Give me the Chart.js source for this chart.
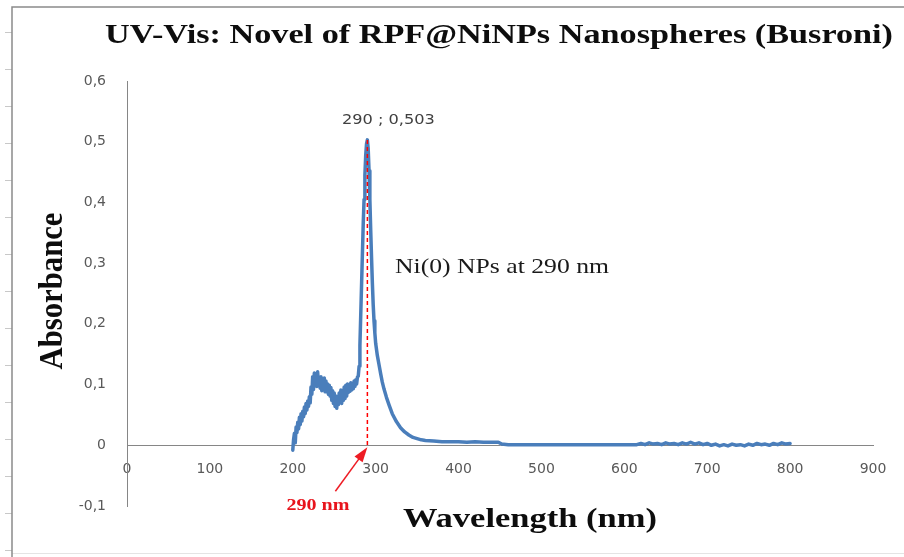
<!DOCTYPE html>
<html lang="en">
<head>
    <meta charset="UTF-8">
    <title>UV-Vis: Novel of RPF@NiNPs Nanospheres (Busroni)</title>
    <script src="https://cdn.jsdelivr.net/npm/chart.js"></script>
    <style>
        body { margin: 0; background: #fff; }
        canvas { display: block; }
    </style>
</head>
<body>
<canvas id="uvChart" width="904" height="557"></canvas>

<script>
    // Measured spectrum, wavelength in nm and absorbance
    const wavelength = [
        200, 201, 202, 203, 204, 205, 206, 207, 208, 209,
        210, 211, 212, 213, 214, 215, 216, 217, 218, 219,
        220, 221, 222, 223, 224, 225, 226, 227, 228, 229,
        230, 231, 232, 233, 234, 235, 236, 237, 238, 239,
        240, 241, 242, 243, 244, 245, 246, 247, 248, 249,
        250, 251, 252, 253, 254, 255, 256, 257, 258, 259,
        260, 261, 262, 263, 264, 265, 266, 267, 268, 269,
        270, 271, 272, 273, 274, 275, 276, 277, 278, 279,
        280, 281, 282, 283, 284, 285, 286, 287, 288, 289,
        290, 291, 292, 293, 294, 295, 296, 297, 298, 299,
        300, 302, 304, 306, 308, 310, 313, 316, 320, 325,
        330, 335, 340, 345, 350, 355, 360, 370, 380, 390,
        400, 410, 420, 430, 440, 448, 452, 460, 480, 500,
        520, 540, 560, 580, 600, 615,
        620, 625, 630, 635, 640, 645, 650, 655, 660, 665,
        670, 675, 680, 685, 690, 695, 700, 705, 710, 715,
        720, 725, 730, 735, 740, 745, 750, 755, 760, 765,
        770, 775, 780, 785, 790, 795, 800
    ];
    const absorbance = [
        -0.008, 0.010, 0.020, 0.004, 0.030, 0.021, 0.038, 0.027, 0.046, 0.034,
        0.052, 0.040, 0.056, 0.047, 0.063, 0.052, 0.069, 0.058, 0.073, 0.064,
        0.080, 0.070, 0.096, 0.084, 0.113, 0.092, 0.119, 0.100, 0.116, 0.097,
        0.121, 0.101, 0.111, 0.094, 0.113, 0.090, 0.109, 0.093, 0.111, 0.088,
        0.106, 0.091, 0.101, 0.084, 0.099, 0.081, 0.095, 0.074, 0.090, 0.069,
        0.086, 0.064, 0.081, 0.061, 0.079, 0.067, 0.086, 0.071, 0.091, 0.069,
        0.088, 0.074, 0.096, 0.077, 0.099, 0.081, 0.101, 0.087, 0.099, 0.089,
        0.103, 0.091, 0.101, 0.093, 0.106, 0.097, 0.108, 0.101, 0.112, 0.114,
        0.130, 0.165, 0.215, 0.265, 0.315, 0.365, 0.405, 0.445, 0.478, 0.497,
        0.503, 0.488, 0.452, 0.405, 0.355, 0.310, 0.268, 0.232, 0.205, 0.185,
        0.168, 0.148, 0.133, 0.118, 0.104, 0.093, 0.079, 0.067, 0.052, 0.039,
        0.029, 0.022, 0.017, 0.013, 0.011, 0.009, 0.008, 0.007, 0.006, 0.006,
        0.006, 0.005, 0.006, 0.005, 0.005, 0.005, 0.002, 0.001, 0.001, 0.001,
        0.001, 0.001, 0.001, 0.001, 0.001, 0.001,
        0.003, 0.001, 0.004, 0.002, 0.003, 0.001, 0.004, 0.002, 0.003, 0.001,
        0.004, 0.002, 0.005, 0.002, 0.004, 0.001, 0.003, 0.000, 0.002, -0.001,
        0.001, -0.001, 0.002, 0.000, 0.001, -0.001, 0.002, 0.000, 0.003, 0.001,
        0.002, 0.000, 0.003, 0.001, 0.004, 0.002, 0.003
    ];

    const xTicks = [0, 100, 200, 300, 400, 500, 600, 700, 800, 900];
    const yTicks = [-0.1, 0, 0.1, 0.2, 0.3, 0.4, 0.5, 0.6];

    const peakNm = 290;
    const peakAbs = 0.503;
    const peakLabel = '290 ; 0,503';
    const peakNote = 'Ni(0) NPs at 290 nm';
    const peakMark = '290 nm';

    const chartTitle = 'UV-Vis: Novel of RPF@NiNPs Nanospheres (Busroni)';
    const xTitle = 'Wavelength (nm)';
    const yTitle = 'Absorbance';

    const points = wavelength.map((w, i) => ({x: w, y: absorbance[i]}));

    // draws text squeezed/stretched horizontally to a given width
    function wideText(ctx, text, cx, base, width, font, color, baseline) {
        ctx.save();
        ctx.font = font;
        ctx.fillStyle = color;
        ctx.textAlign = 'center';
        ctx.textBaseline = baseline || 'alphabetic';
        const w = ctx.measureText(text).width;
        ctx.translate(cx, base);
        ctx.scale(width / w, 1);
        ctx.fillText(text, 0, 0);
        ctx.restore();
    }

    const frame = {
        id: 'frame',
        beforeDraw(chart) {
            const ctx = chart.ctx;
            ctx.save();
            ctx.fillStyle = '#fff';
            ctx.fillRect(0, 0, chart.width, chart.height);
            ctx.strokeStyle = '#e4e4e4';
            ctx.lineWidth = 1;
            ctx.beginPath();
            ctx.moveTo(12, 553.5);
            ctx.lineTo(chart.width, 553.5);
            ctx.stroke();
            ctx.strokeStyle = '#c8c8c8';
            ctx.beginPath();
            for (let ty = 32; ty < chart.height; ty += 37) {
                ctx.moveTo(5, ty + 0.5);
                ctx.lineTo(12, ty + 0.5);
            }
            ctx.stroke();
            ctx.strokeStyle = '#8a8a8a';
            ctx.lineWidth = 1.5;
            ctx.beginPath();
            ctx.moveTo(chart.width, 7);
            ctx.lineTo(12, 7);
            ctx.lineTo(12, chart.height);
            ctx.stroke();
            ctx.restore();
        }
    };

    const notes = {
        id: 'notes',
        afterDatasetsDraw(chart) {
            const ctx = chart.ctx;
            const x = chart.scales.x, y = chart.scales.y;
            const px = x.getPixelForValue(peakNm);
            const py = y.getPixelForValue(peakAbs);
            const y0 = y.getPixelForValue(0);

            ctx.save();
            // dashed drop line from the peak to the axis
            ctx.strokeStyle = '#ff0000';
            ctx.lineWidth = 1.5;
            ctx.setLineDash([4, 3]);
            ctx.beginPath();
            ctx.moveTo(px, py);
            ctx.lineTo(px, y0);
            ctx.stroke();
            ctx.setLineDash([]);

            // arrow pointing at 290 nm
            const tipX = px, tipY = y0 + 2;
            const tailX = px - 32, tailY = y0 + 46;
            const ang = Math.atan2(tipY - tailY, tipX - tailX);
            ctx.strokeStyle = '#ee1c24';
            ctx.fillStyle = '#ee1c24';
            ctx.lineWidth = 1.5;
            ctx.beginPath();
            ctx.moveTo(tailX, tailY);
            ctx.lineTo(tipX - 10 * Math.cos(ang), tipY - 10 * Math.sin(ang));
            ctx.stroke();
            ctx.beginPath();
            ctx.moveTo(tipX, tipY);
            ctx.lineTo(tipX - 15 * Math.cos(ang) + 5 * Math.sin(ang), tipY - 15 * Math.sin(ang) - 5 * Math.cos(ang));
            ctx.lineTo(tipX - 15 * Math.cos(ang) - 5 * Math.sin(ang), tipY - 15 * Math.sin(ang) + 5 * Math.cos(ang));
            ctx.closePath();
            ctx.fill();
            ctx.restore();

            // data label of the peak
            wideText(ctx, peakLabel, px + 21, py - 20, 93, '14px "DejaVu Sans"', '#404040', 'middle');
            wideText(ctx, peakNote, 502, 273, 214, '21px "Liberation Serif"', '#1a1a1a');
            wideText(ctx, peakMark, 318, 510, 63, 'bold 16px "Liberation Serif"', '#e8141c');
        },
        afterDraw(chart) {
            const ctx = chart.ctx;
            wideText(ctx, chartTitle, 499, 43, 788, 'bold 28px "Liberation Serif"', '#0d0d0d');
            wideText(ctx, xTitle, 530, 527, 254, 'bold 28px "Liberation Serif"', '#0d0d0d');

            // vertical axis title
            ctx.save();
            ctx.font = 'bold 30px "Liberation Serif"';
            ctx.fillStyle = '#0d0d0d';
            ctx.textAlign = 'center';
            ctx.textBaseline = 'alphabetic';
            const w = ctx.measureText(yTitle).width;
            ctx.translate(62, 291);
            ctx.rotate(-Math.PI / 2);
            ctx.scale(157 / w, 1.15);
            ctx.fillText(yTitle, 0, 0);
            ctx.restore();
        }
    };

    const fmt = v => Math.abs(v) < 1e-9 ? '0' : v.toFixed(1).replace('.', ',');

    new Chart(document.getElementById('uvChart'), {
        type: 'line',
        data: {
            datasets: [{
                label: 'Absorbance',
                data: points,
                borderColor: '#4a7ebb',
                borderWidth: 3.5,
                borderJoinStyle: 'round',
                borderCapStyle: 'round',
                pointRadius: 0,
                tension: 0,
                fill: false
            }]
        },
        options: {
            responsive: false,
            animation: false,
            layout: {padding: {left: 0, top: 81, right: 31, bottom: 51}},
            plugins: {
                legend: {display: false},
                tooltip: {enabled: false}
            },
            scales: {
                x: {
                    type: 'linear',
                    position: {y: 0},
                    min: 0,
                    max: 900,
                    afterFit: s => { s.height = 0; },
                    afterBuildTicks: s => { s.ticks = xTicks.map(v => ({value: v})); },
                    grid: {display: false, drawTicks: false},
                    border: {display: true, color: '#868686', width: 1},
                    ticks: {
                        padding: 16,
                        maxRotation: 0,
                        color: '#595959',
                        font: {family: 'DejaVu Sans', size: 14}
                    }
                },
                y: {
                    min: -0.1,
                    max: 0.6,
                    afterFit: s => { s.width = 127; },
                    afterBuildTicks: s => { s.ticks = yTicks.map(v => ({value: v})); },
                    grid: {display: false, drawTicks: false},
                    border: {display: true, color: '#868686', width: 1},
                    ticks: {
                        padding: 21,
                        color: '#595959',
                        font: {family: 'DejaVu Sans', size: 14},
                        callback: v => fmt(v)
                    }
                }
            }
        },
        plugins: [frame, notes]
    });
</script>
</body>
</html>
